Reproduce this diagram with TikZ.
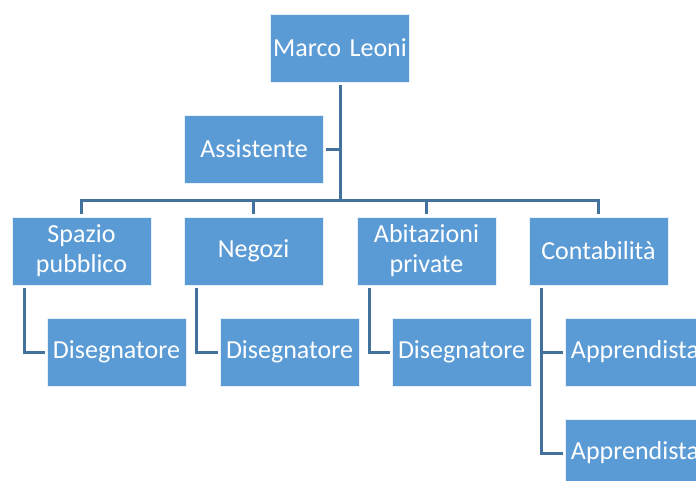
\documentclass[tikz,border=0pt]{standalone}
\usepackage{fontspec}
\setmainfont{Carlito}
\usepackage{xcolor}
\usetikzlibrary{positioning}

\definecolor{boxblue}{HTML}{5B9BD5}
\definecolor{lineblue}{HTML}{41719C}

\begin{document}
\begin{tikzpicture}[x=1pt, y=-1pt,
    every node/.style={draw=white!85!boxblue, line width=0.6pt, fill=boxblue, text=white,
        minimum width=139pt, minimum height=68pt, inner sep=0pt, align=center,
        text width=136pt, font=\fontsize{26}{30}\selectfont},
    link/.style={draw=lineblue, line width=3pt}]
    \fill[white] (0,0) rectangle (696,480);
    \clip (0,0) rectangle (696,480);
    
    \node (marco) at (340,48) {Marco Leoni};
    \node (assist) at (254,149) {Assistente};
    \node (spazio) at (81.5,251) {Spazio\\pubblico};
    \node (negozi) at (253.5,251) {Negozi};
    \node (abitaz) at (426.5,251) {Abitazioni\\private};
    \node (conta) at (598.5,251) {Contabilità};
    \node (dis1) at (116.5,352) {Disegnatore};
    \node (dis2) at (289.5,352) {Disegnatore};
    \node (dis3) at (461.5,352) {Disegnatore};
    \node (app1) at (635,352) {Apprendista};
    \node (app2) at (635,453) {Apprendista};
    \coordinate (bus) at (340,200);
    
    \draw[link, shorten <=3pt] (marco) -- (bus);
    \draw[link, shorten <=3pt, shorten >=2pt] (marco) |- (assist);
    \foreach \dept in {spazio,negozi,abitaz,conta}
        \draw[link, shorten >=3pt] (bus) -| (\dept);
    \draw[link, shorten <=3pt, shorten >=2pt] ([xshift=13pt]spazio.south west) |- (dis1);
    \draw[link, shorten <=3pt, shorten >=2pt] ([xshift=13pt]negozi.south west) |- (dis2);
    \draw[link, shorten <=3pt, shorten >=2pt] ([xshift=13pt]abitaz.south west) |- (dis3);
    \draw[link, shorten <=3pt, shorten >=2pt] ([xshift=13pt]conta.south west) |- (app1);
    \draw[link, shorten <=3pt, shorten >=2pt] ([xshift=13pt]conta.south west) |- (app2);
\end{tikzpicture}
\end{document}
